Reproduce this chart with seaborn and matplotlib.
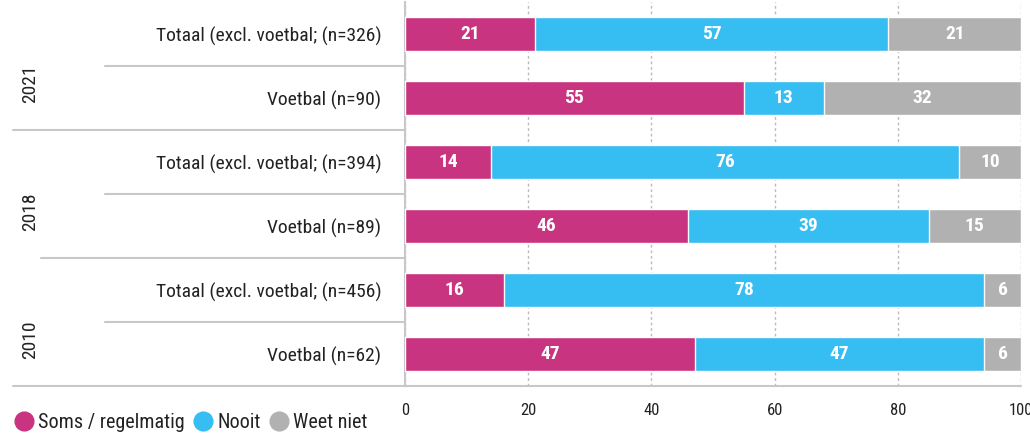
import matplotlib
matplotlib.use('Agg')
import matplotlib.pyplot as plt
import matplotlib.font_manager as fm
from matplotlib.lines import Line2D
from matplotlib.transforms import blended_transform_factory
import seaborn as sns
import pandas as pd

# data
years = ['2021', '2018', '2010']
rows = ['Totaal (excl. voetbal; (n=326)', 'Voetbal (n=90)',
        'Totaal (excl. voetbal; (n=394)', 'Voetbal (n=89)',
        'Totaal (excl. voetbal; (n=456)', 'Voetbal (n=62)']
soms = [20.9, 55, 14, 46, 16, 47]
nooit = [57.1, 13, 76, 39, 78, 47]
weet_niet = [21.4, 32, 10, 15, 6, 6]
series = ['Soms / regelmatig', 'Nooit', 'Weet niet']
colors = ['#C8347F', '#36BDF1', '#B1B1B1']

sns.set_style('white')

# pick a condensed font if one is there
names = {f.name for f in fm.fontManager.ttflist}
font = 'Roboto'
for cand in ['Roboto Condensed', 'Liberation Sans Narrow', 'Open Sans Condensed', 'DejaVu Sans Condensed']:
    if cand in names:
        font = cand
        break
plt.rcParams['font.family'] = [font, 'DejaVu Sans']

df = pd.DataFrame({'row': rows, 'soms': soms, 'nooit': nooit, 'weet': weet_niet})
tot = df[['soms', 'nooit', 'weet']].sum(axis=1)
# percent stacking
df['c1'] = df['soms'] / tot * 100
df['c2'] = (df['soms'] + df['nooit']) / tot * 100
df['c3'] = (df['soms'] + df['nooit'] + df['weet']) / tot * 100

fig = plt.figure(figsize=(10.30, 4.37), dpi=100)
ax = fig.add_axes([405 / 1030, 1 - 386 / 437, 616 / 1030, 384 / 437])

for col, c in zip(['c3', 'c2', 'c1'], colors[::-1]):
    sns.barplot(data=df, x=col, y='row', color=c, width=0.52, saturation=1,
                orient='h', ax=ax, zorder=3)

# segment labels
for i, r in df.iterrows():
    left = 0
    for v, w in zip([r['soms'], r['nooit'], r['weet']],
                    [r['c1'], r['c2'] - r['c1'], r['c3'] - r['c2']]):
        ax.text(left + w / 2, i, f'{v:.0f}', ha='center', va='center',
                color='white', fontsize=14, fontweight='bold', zorder=4)
        left += w

ax.set_xlim(0, 100)
ax.set_ylim(len(rows) - 0.5, -0.5)
ax.set_xticks([0, 20, 40, 60, 80, 100])
ax.set_xlabel('')
ax.set_ylabel('')
ax.xaxis.grid(True, color='#BBBBBB', linestyle=(0, (2, 2)), linewidth=1, zorder=0)
ax.yaxis.grid(False)
for s in ['top', 'right', 'bottom']:
    ax.spines[s].set_visible(False)
ax.spines['left'].set_color('#C8C8C8')
ax.spines['left'].set_linewidth(1.5)
ax.tick_params(axis='x', length=7, color='#C8C8C8', labelsize=12, pad=5, labelcolor='#222222')
ax.tick_params(axis='y', length=0, labelsize=14, pad=17, labelcolor='#222222')

# separators and bottom line
trans = blended_transform_factory(ax.transAxes, ax.transData)
def px(x):
    return (x - 405) / 616
for y, x0 in [(0.5, 105), (1.5, 13), (2.5, 105), (3.5, 41), (4.5, 105), (5.5, 13)]:
    ax.add_line(Line2D([px(x0), px(405) if y != 5.5 else 1.0], [y, y], transform=trans,
                       color='#C8C8C8', linewidth=1.5, clip_on=False, zorder=1))

# year labels
for y, yr in zip([0.78, 2.77, 4.77], years):
    ax.text(px(30), y, yr, transform=trans, rotation=90, ha='center', va='center',
            fontsize=14, color='#222222')

handles = [Line2D([], [], marker='o', linestyle='', markersize=13.5,
                  markerfacecolor=c, markeredgecolor=c) for c in colors]
fig.legend(handles, series, loc='lower left', bbox_to_anchor=(0.004, -0.012),
           ncol=3, frameon=False, fontsize=14.5, handletextpad=0.2,
           columnspacing=0.4, borderpad=0, handlelength=1.0, labelcolor='#222222')

fig.savefig('out.png', dpi=100)
